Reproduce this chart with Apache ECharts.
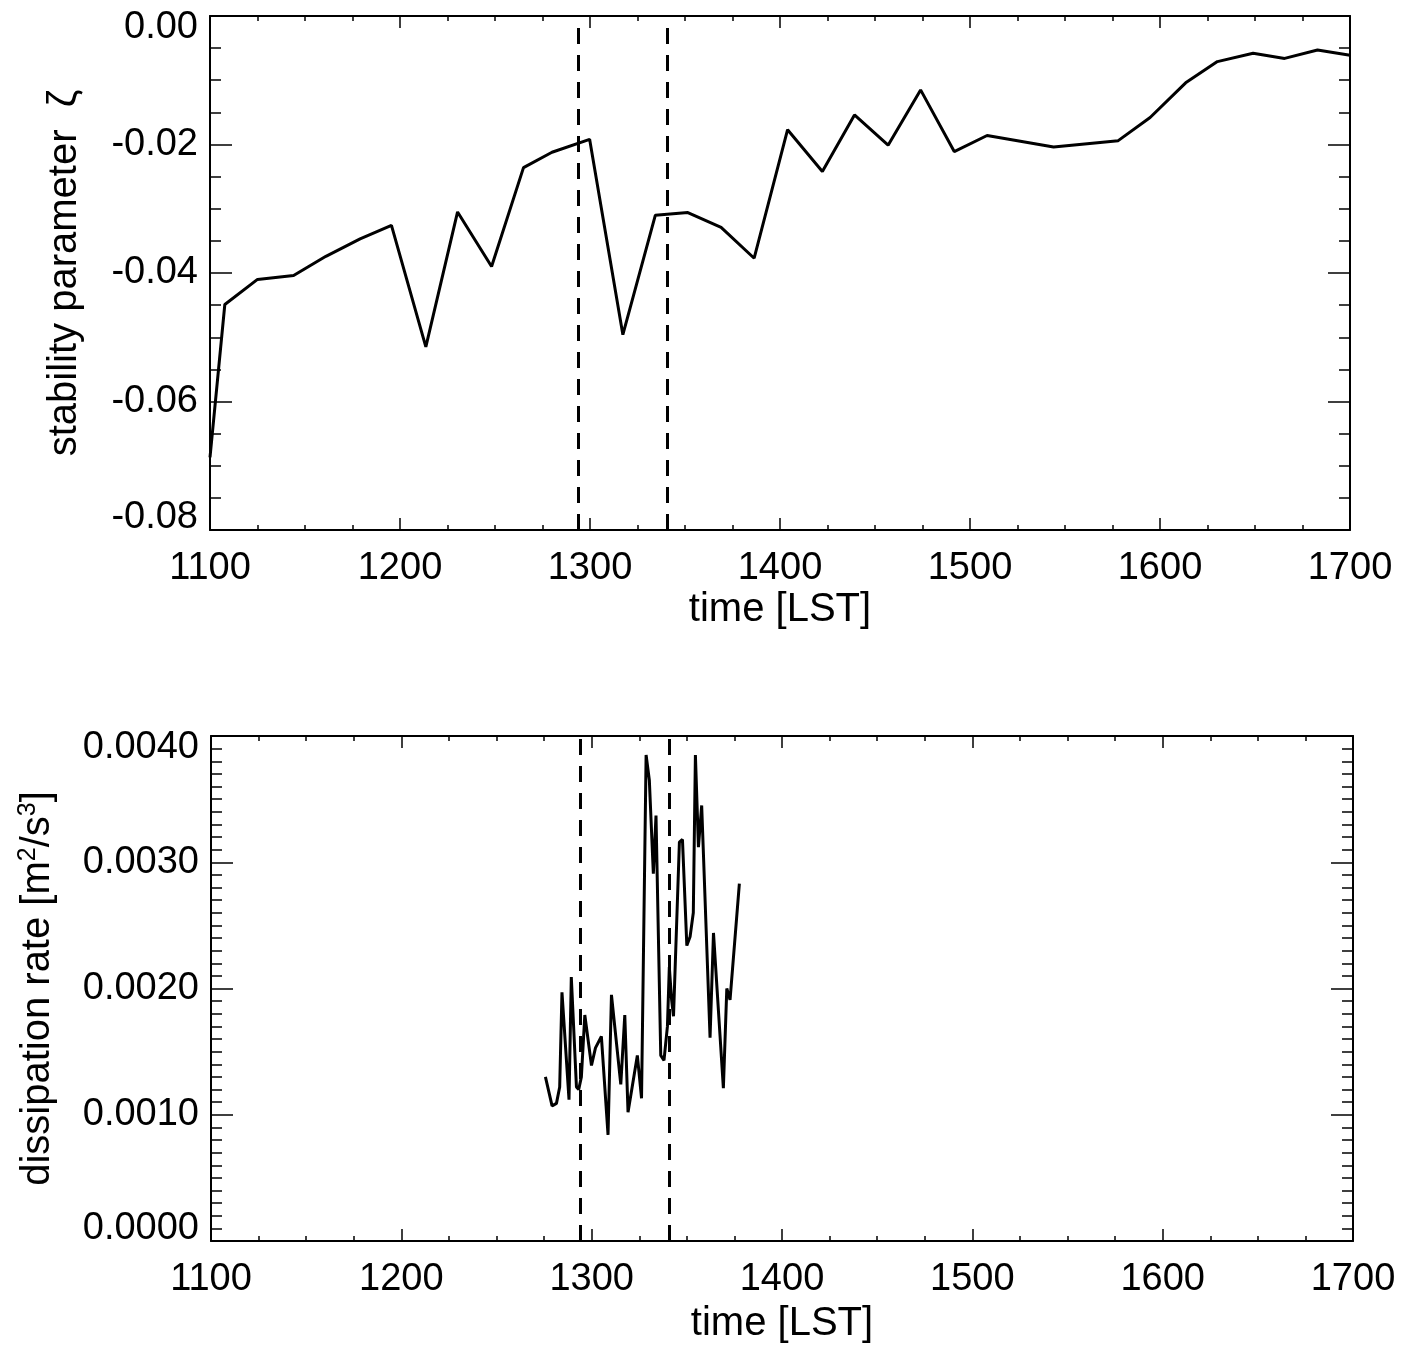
<!DOCTYPE html>
<html>
<head>
<meta charset="utf-8">
<script src="https://cdn.jsdelivr.net/npm/echarts@6/dist/echarts.min.js"></script>
<style>
html, body { margin: 0; padding: 0; background: #fff; }
#main { width: 1411px; height: 1351px; }
</style>
</head>
<body>
<div id="main"></div>
<script>
// stability parameter (top panel)
var stabTime = [1100, 1107.8, 1125, 1144, 1161, 1179, 1195.5, 1213.6, 1230.3, 1248.2, 1265, 1280, 1299.8,
	1317.3, 1334.4, 1351.5, 1369, 1386.4, 1404, 1422.3, 1439.2, 1456.9, 1474, 1491.7, 1509, 1544, 1578,
	1594.8, 1613.5, 1630.2, 1649, 1665.6, 1682.9, 1700];
var stabZeta = [-0.0687, -0.0449, -0.0410, -0.0404, -0.0374, -0.0347, -0.0326, -0.0515, -0.0305, -0.0390,
	-0.0236, -0.0212, -0.0192, -0.0496, -0.0310, -0.0306, -0.0329, -0.0377, -0.0177, -0.0242, -0.0154,
	-0.0201, -0.0115, -0.0211, -0.0186, -0.0204, -0.0194, -0.0158, -0.0104, -0.0071, -0.0058, -0.0066,
	-0.0053, -0.0061];

// dissipation rate (bottom panel)
var dissTime = [1275.7, 1279.2, 1281.5, 1283.2, 1284.4, 1288.1, 1289.3, 1292, 1293.2, 1294.6, 1296.4, 1299.9,
	1302, 1305.1, 1308.6, 1310.4, 1315.3, 1317.4, 1319.1, 1324, 1326.2, 1328.6, 1330.3, 1332.4, 1333.8,
	1336.3, 1338, 1339.8, 1340.8, 1342, 1343, 1346.1, 1347.7, 1350, 1351.7, 1353.4, 1354.5, 1356.1, 1357.8,
	1362.2, 1364, 1369.2, 1371, 1372.7, 1377.6];
var dissRate = [0.00130, 0.00107, 0.00109, 0.00122, 0.00197, 0.00112, 0.00209, 0.00122, 0.00120, 0.00130,
	0.00179, 0.00139, 0.00153, 0.00162, 0.00084, 0.00195, 0.00124, 0.00179, 0.00102, 0.00147, 0.00113,
	0.00385, 0.00365, 0.00291, 0.00337, 0.00147, 0.00143, 0.00170, 0.00217, 0.00191, 0.00178, 0.00316,
	0.00318, 0.00234, 0.00241, 0.00260, 0.00385, 0.00312, 0.00345, 0.00161, 0.00244, 0.00121, 0.00200,
	0.00191, 0.00283];

// dashed marker times
var markerTimes = [1294, 1340.5];

var timeTicks = { min: 1100, max: 1700, interval: 100 };
var zetaTicks = { min: -0.08, max: 0, interval: 0.02 };
var rateTicks = { min: 0, max: 0.004, interval: 0.001 };

var FONT = 'Liberation Sans';

function pairs(xs, ys) {
	return xs.map(function(x, i) { return [x, ys[i]]; });
}

function xAx(grid, pos, showLabel, name, gap) {
	return {
		type: 'value', gridIndex: grid, position: pos,
		min: timeTicks.min, max: timeTicks.max, interval: timeTicks.interval,
		name: name || '', nameLocation: 'middle', nameGap: gap || 0,
		nameTextStyle: { fontFamily: FONT, fontSize: 40, color: '#000' },
		axisLine: { show: true, onZero: false, lineStyle: { color: '#000', width: 2 } },
		axisTick: { show: true, inside: true, length: 12, lineStyle: { color: '#000', width: 1.5 } },
		minorTick: { show: true, splitNumber: 4, length: 5, lineStyle: { color: '#000', width: 1.5 } },
		axisLabel: {
			show: showLabel, margin: 20, fontFamily: FONT, fontSize: 38, color: '#000',
			formatter: function(v) { return String(v); }
		},
		splitLine: { show: false }
	};
}

function yAx(grid, pos, showLabel, ticks, minorN, digits, name, gap, rich) {
	var labRich = {
		hi: { fontFamily: FONT, fontSize: 38, color: '#000', padding: [24, 0, 0, 0] },
		lo: { fontFamily: FONT, fontSize: 38, color: '#000', padding: [0, 0, 24, 0] }
	};
	return {
		type: 'value', gridIndex: grid, position: pos,
		min: ticks.min, max: ticks.max, interval: ticks.interval,
		name: name || '', nameLocation: 'middle', nameGap: gap || 0,
		nameTextStyle: { fontFamily: FONT, fontSize: 40, color: '#000', rich: rich },
		axisLine: { show: true, onZero: false, lineStyle: { color: '#000', width: 2 } },
		axisTick: { show: true, inside: true, length: 22, lineStyle: { color: '#000', width: 1.5 } },
		minorTick: { show: true, splitNumber: minorN, length: 11, lineStyle: { color: '#000', width: 1.5 } },
		axisLabel: {
			show: showLabel, margin: 12, fontFamily: FONT, fontSize: 38, color: '#000',
			rich: labRich,
			formatter: function(v) {
				var s = v.toFixed(digits);
				if (Number(s) === 0 && s.charAt(0) === '-') s = s.slice(1);
				if (Math.abs(v - ticks.max) < ticks.interval / 100) return '{hi|' + s + '}';
				if (Math.abs(v - ticks.min) < ticks.interval / 100) return '{lo|' + s + '}';
				return s;
			}
		},
		splitLine: { show: false }
	};
}

function marker() {
	return {
		silent: true, symbol: 'none',
		label: { show: false },
		lineStyle: { color: '#000', type: [16, 11], width: 3 },
		data: markerTimes.map(function(t) { return { xAxis: t }; })
	};
}

var myChart = echarts.init(document.getElementById('main'));
var supStyle = { fontFamily: FONT, fontSize: 25, color: '#000', verticalAlign: 'bottom', padding: [0, 0, 19, 0] };
var option = {
	backgroundColor: '#fff',
	animation: false,
	grid: [
		{ left: 210, top: 16, width: 1140, height: 514 },
		{ left: 211, top: 736, width: 1142, height: 505 }
	],
	xAxis: [
		xAx(0, 'bottom', true, 'time [LST]', 60),
		xAx(0, 'top', false),
		xAx(1, 'bottom', true, 'time [LST]', 63),
		xAx(1, 'top', false)
	],
	yAxis: [
		yAx(0, 'left', true, zetaTicks, 4, 2, 'stability parameter  ζ', 125),
		yAx(0, 'right', false, zetaTicks, 4, 2),
		yAx(1, 'left', true, rateTicks, 10, 4, 'dissipation rate [m{sup|2}/s{sup|3}]', 151, { sup: supStyle }),
		yAx(1, 'right', false, rateTicks, 10, 4)
	],
	series: [
		{
			type: 'line', xAxisIndex: 0, yAxisIndex: 0,
			data: pairs(stabTime, stabZeta),
			showSymbol: false, clip: true,
			lineStyle: { color: '#000', width: 3 },
			markLine: marker()
		},
		{
			type: 'line', xAxisIndex: 2, yAxisIndex: 2,
			data: pairs(dissTime, dissRate),
			showSymbol: false, clip: true,
			lineStyle: { color: '#000', width: 3 },
			markLine: marker()
		}
	]
};
myChart.setOption(option);
</script>
</body>
</html>
